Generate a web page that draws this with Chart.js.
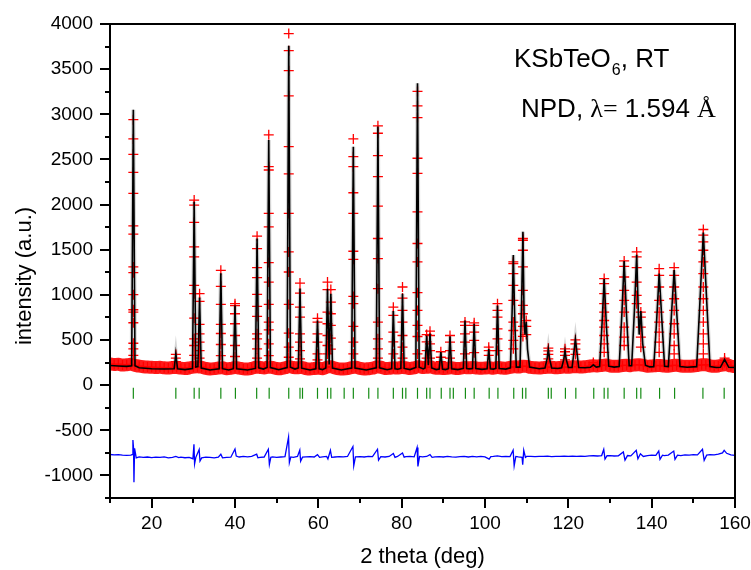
<!DOCTYPE html>
<html>
<head>
<meta charset="UTF-8" />
<title>KSbTeO6 NPD Rietveld</title>
<style>
  html, body { margin: 0; padding: 0; background: #fff; }
  #plot { display: block; }
</style>
</head>
<body>
<canvas id="plot" width="751" height="570"></canvas>
<script src="https://cdn.jsdelivr.net/npm/chart.js"></script>
<script>
// observed background band, one value per degree from 10 to 160
const bgStart = 10;
const bgInt = [235,228,232,222,226,230,220,210,204,200,198,195,197,192,190,194,196,188,185,190,
  200,205,198,185,180,183,190,192,182,186,195,188,180,178,186,198,196,190,200,195,
  185,182,192,205,195,192,196,184,178,185,188,182,198,205,190,180,178,182,195,198,
  185,178,182,188,200,198,185,186,192,190,195,192,184,192,205,195,198,200,188,186,
  185,188,192,184,186,194,192,195,190,186,190,192,188,195,190,188,196,205,200,210,
  208,196,192,190,194,198,198,194,196,200,198,203,205,200,204,210,215,212,218,222,
  212,208,210,218,220,216,224,226,220,210,212,216,218,212,210,218,220,212,208,210,
  212,218,225,226,214,208,212,222,225,212,205];

// observed points on the peaks: [2theta, intensities seen on that peak]
const obsPeaks = [
  [15.6, [2940,2727,2557,2357,2124,1764,1672,1309,1246,1002,835,809,691,464,402,330]],
  [25.8, [340,300,260]],
  [30.2, [2050,1994,1802,1531,1420,1105,1013,742,513,439,330]],
  [31.5, [1013,928,672,568,476,383,300]],
  [36.6, [1272,1094,894,672,572,450,328]],
  [40.0, [902,880,791,680,550,439,317]],
  [45.3, [1650,1513,1302,1191,1005,872,761,568,513,402,300]],
  [48.1, [2772,2420,2383,1902,1753,1358,1142,894,698,613,458,328]],
  [52.9, [3894,3705,3483,3205,2642,2339,1902,1475,1253,894,576,420,309]],
  [55.6, [1131,1020,864,753,568,476,383,290]],
  [59.8, [740,698,568,476,346,280]],
  [62.2, [1142,1058,809,680,550,439,346]],
  [63.0, [1058,920,791,661,520,400]],
  [68.4, [2727,2531,2420,2131,1902,1483,1394,983,902,650,476,346]],
  [74.3, [2872,2790,2542,2309,1983,1624,1402,1068,698,513,402,300]],
  [78.0, [864,772,587,480,346]],
  [80.2, [1087,964,828,698,550,420,300]],
  [83.8, [3253,3094,2964,2513,2346,1920,1569,1365,1024,828,661,539,346]],
  [86.0, [560,480,383,300]],
  [86.8, [598,550,458,383,300]],
  [89.4, [370,309,260]],
  [91.6, [550,476,383,300]],
  [95.2, [700,661,568,476,346]],
  [97.4, [690,661,587,495,360]],
  [100.9, [420,383,330]],
  [103.0, [902,828,753,624,513,383]],
  [106.8, [1366,1346,1235,1105,939,698,605,495,402]],
  [109.1, [1624,1605,1494,1309,1050,883,791,650,540]],
  [109.9, [716,650,560]],
  [115.2, [410,380,340,290]],
  [119.2, [402,370,330,280]],
  [121.7, [502,458,400,340]],
  [126.0, [250,230]],
  [128.6, [1180,1124,1013,902,809,716,642,550,458,364]],
  [133.4, [1376,1316,1198,1050,939,809,642,531,439]],
  [136.4, [1475,1420,1302,1142,994,902]],
  [137.4, [809,753,642,531,420]],
  [141.8, [1290,1216,1087,939,809,698,587,476,364]],
  [145.4, [1302,1216,1087,957,828,680,568,439,346]],
  [152.4, [1724,1661,1587,1494,1365,1235,1087,957,828,698,568,458,346]],
  [157.5, [300,270,250]]
];

// calculated profile [2theta, intensity]
const calcCurve = [
  [10,218],[12,212],[14,208],[15.2,215],[15.6,3050],[16.0,215],[17,192],[20,182],[23,178],
  [25.4,182],[25.8,350],[26.2,182],[28,172],[29.8,185],[30.2,2030],[30.6,200],[31.1,205],
  [31.5,970],[31.9,190],[34,168],[36.2,182],[36.6,1240],[37.0,182],[38.5,168],[39.6,182],
  [40.0,885],[40.4,182],[43,168],[44.9,185],[45.3,1625],[45.7,192],[46.8,178],[47.7,195],
  [48.1,2715],[48.5,195],[50.5,170],[52.5,195],[52.9,3760],[53.3,198],[54.4,178],[55.2,190],
  [55.6,1070],[56.0,188],[58,168],[59.4,180],[59.8,716],[60.2,180],[61,172],[61.8,190],
  [62.2,1068],[62.6,230],[63.0,1013],[63.4,190],[65.5,168],[68.0,190],[68.4,2640],[68.8,190],
  [71.5,168],[73.9,192],[74.3,2865],[74.7,192],[76.5,170],[77.6,182],[78.0,820],[78.4,182],
  [79.1,176],[79.8,185],[80.2,1013],[80.6,185],[82,172],[83.4,195],[83.8,3345],[84.2,198],
  [85.2,180],[85.6,190],[86.0,550],[86.4,220],[86.8,572],[87.2,190],[88.3,172],[89.0,178],
  [89.4,365],[89.8,178],[90.5,172],[91.2,182],[91.6,540],[92.0,182],[93.5,172],[94.8,185],
  [95.2,716],[95.6,185],[96.3,180],[97.0,185],[97.4,680],[97.8,185],[99.3,175],[100.5,182],
  [100.9,400],[101.3,182],[102,178],[102.6,185],[103.0,883],[103.4,185],[105,178],
  [106.1,192],[106.5,800],[106.8,1440],[107.1,800],[107.5,200],[108.4,200],[108.8,950],
  [109.1,1700],[109.4,700],[109.6,560],[109.9,700],[110.2,400],[110.7,200],[113,182],
  [114.4,190],[114.9,290],[115.2,400],[115.5,290],[116.0,190],[117.5,184],[118.4,192],
  [118.9,285],[119.2,383],[119.5,285],[120.0,195],[120.9,195],[121.3,350],[121.7,510],
  [122.1,350],[122.5,195],[124,192],[125.3,198],[126.0,225],[126.7,200],[127.5,205],
  [128.1,690],[128.6,1175],[129.1,690],[129.7,210],[131,200],[132.2,205],[132.85,790],
  [133.4,1375],[133.95,790],[134.6,215],[135.2,215],[135.85,820],[136.4,1445],[136.8,800],
  [137.0,560],[137.4,820],[137.85,460],[138.5,220],[139.5,202],[140.5,205],[141.2,720],
  [141.8,1235],[142.45,720],[143.1,210],[144.0,205],[144.7,740],[145.4,1275],[146.1,740],
  [146.8,205],[148.5,198],[150.8,205],[151.6,940],[152.4,1690],[153.2,940],[154.0,205],
  [155.5,196],[156.5,198],[157.5,285],[158.5,198],[160,195]
];

// difference curve (obs - calc, shifted) [2theta, value]
const diffCurve = [
  [10,-768],[11,-772],[12,-770],[13,-775],[14,-778],[15,-776],[15.3,-770],[15.5,-608],[15.65,-700],
  [15.75,-1075],[15.9,-700],[16.3,-805],[17,-795],[18,-800],[19,-796],[20,-802],[21,-798],[22,-800],
  [23,-795],[24,-805],[25,-800],[25.8,-790],[26.5,-802],[27,-798],[28,-804],[29,-800],[29.9,-815],
  [30.15,-655],[30.3,-872],[30.6,-800],[31.4,-712],[31.6,-840],[32,-805],[33,-798],[34,-800],
  [35,-806],[36,-798],[36.6,-765],[37,-805],[38,-800],[39,-798],[40,-708],[40.3,-785],[41,-796],
  [42,-790],[43,-794],[44,-788],[45.2,-765],[45.5,-805],[46,-800],[47,-796],[48.0,-710],
  [48.25,-878],[48.6,-800],[49,-795],[50,-800],[51,-796],[52,-792],[52.85,-575],[53.05,-858],
  [53.4,-795],[54,-800],[55,-790],[55.55,-720],[55.75,-842],[56.2,-798],[57,-795],[58,-792],
  [59,-796],[59.8,-770],[60.3,-800],[61,-795],[62,-790],[62.3,-818],[62.9,-722],[63.2,-800],
  [64,-796],[65,-792],[66,-795],[67,-790],[68.3,-680],[68.5,-894],[68.9,-795],[70,-792],
  [71,-796],[72,-790],[73,-792],[74.2,-710],[74.45,-830],[75,-792],[76,-796],[77,-790],
  [78,-758],[78.4,-800],[79,-790],[80.2,-752],[80.6,-798],[81,-792],[82,-790],[83,-795],
  [83.7,-690],[83.9,-900],[84.3,-790],[85,-795],[86,-790],[86.8,-770],[87.3,-800],[88,-795],
  [89,-792],[90,-796],[91,-790],[92,-795],[93,-798],[94,-792],[95,-790],[96,-796],[97,-790],
  [98,-795],[99,-790],[100,-794],[101,-820],[101.4,-792],[102,-790],[103,-784],[104,-792],
  [105,-790],[106,-792],[106.75,-720],[107.0,-894],[107.4,-790],[108,-795],[108.9,-800],
  [109.05,-880],[109.3,-722],[109.7,-800],[110,-790],[111,-788],[112,-792],[113,-788],
  [114,-790],[115,-786],[116,-792],[117,-788],[118,-790],[119,-786],[120,-790],[121,-786],
  [122,-790],[123,-786],[124,-788],[125,-784],[126,-782],[127,-785],[128,-780],[128.5,-712],
  [128.8,-820],[129.3,-782],[130,-780],[131,-785],[132,-782],[133.2,-740],[133.6,-830],
  [134.2,-780],[135,-784],[136.3,-722],[136.7,-815],[137.3,-760],[138,-790],[139,-780],
  [140,-776],[141,-778],[141.7,-730],[142.0,-822],[142.6,-776],[143,-780],[144,-775],
  [145.3,-730],[145.6,-822],[146.2,-776],[147,-780],[148,-772],[149,-776],[150,-770],
  [151,-772],[152.2,-710],[152.6,-832],[153.2,-775],[154,-770],[155,-772],[156,-765],
  [157.0,-750],[157.4,-722],[158,-755],[159,-772],[160,-778]
];

// Bragg reflection positions (2theta)
const braggPos = [15.6,25.8,30.2,31.4,36.6,40.1,45.2,48.2,52.9,55.6,56.2,59.8,62.2,63.0,66.2,
  68.4,72.1,74.3,78.0,80.2,81.0,83.8,86.0,86.8,89.5,91.6,92.4,95.3,97.4,101.0,103.1,106.9,
  109.0,109.8,115.2,115.9,119.3,121.8,126.1,128.6,129.5,133.4,136.4,137.4,141.9,145.5,152.3,157.4];
const braggLevel = -90;

// build point lists for the library
const bgData = bgInt.map((v, i) => ({ x: bgStart + i, y: v }));
const obsData = [];
obsPeaks.forEach(([c, list]) => list.forEach(v => obsData.push({ x: c, y: v })));
const calcData = calcCurve.map(([x, y]) => ({ x, y }));
const diffData = diffCurve.map(([x, y]) => ({ x, y }));
const braggData = braggPos.map(p => ({ x: p, y: braggLevel }));

const FONT = "'Liberation Sans', Arial, sans-serif";
const SERIF = "'Liberation Serif', 'Times New Roman', serif";

const framePlugin = {
  id: 'frame',
  afterDraw(chart) {
    const { ctx, chartArea: a, scales: { x, y } } = chart;
    ctx.save();
    ctx.strokeStyle = '#000';
    ctx.lineWidth = 2;
    ctx.strokeRect(a.left, a.top, a.right - a.left, a.bottom - a.top);
    ctx.beginPath();
    y.ticks.forEach(t => {
      const py = Math.round(y.getPixelForValue(t.value));
      const len = t.value % 500 === 0 ? 10 : 5;
      ctx.moveTo(a.left, py);
      ctx.lineTo(a.left - len, py);
    });
    x.ticks.forEach(t => {
      const px = Math.round(x.getPixelForValue(t.value));
      const len = t.value % 20 === 0 ? 10 : 5;
      ctx.moveTo(px, a.bottom);
      ctx.lineTo(px, a.bottom + len);
    });
    ctx.stroke();

    ctx.fillStyle = '#000';

    // y axis title, a little below the axis middle as in the original
    ctx.save();
    ctx.translate(25, a.top + (a.bottom - a.top) / 2 + 15);
    ctx.rotate(-Math.PI / 2);
    ctx.textAlign = 'center';
    ctx.textBaseline = 'middle';
    ctx.font = '22px ' + FONT;
    ctx.fillText('intensity (a.u.)', 0, 0);
    ctx.restore();

    // annotation text
    ctx.textBaseline = 'alphabetic';
    let tx = a.right - 221, ty = 67;
    ctx.font = '26px ' + FONT;
    ctx.fillText('KSbTeO', tx, ty);
    tx += ctx.measureText('KSbTeO').width;
    ctx.font = '16px ' + FONT;
    ctx.fillText('6', tx + 1, ty + 8);
    tx += ctx.measureText('6').width + 1;
    ctx.font = '26px ' + FONT;
    ctx.fillText(', RT', tx, ty);

    tx = a.right - 214; ty = 117;
    ctx.fillText('NPD, ', tx, ty);
    tx += ctx.measureText('NPD, ').width;
    ctx.font = '26px ' + SERIF;
    ctx.fillText('\u03bb=', tx, ty);
    tx += ctx.measureText('\u03bb=').width;
    ctx.font = '26px ' + FONT;
    ctx.fillText(' 1.594 ', tx, ty);
    tx += ctx.measureText(' 1.594 ').width;
    ctx.font = '26px ' + SERIF;
    ctx.fillText('\u00c5', tx, ty);
    ctx.restore();
  }
};

new Chart(document.getElementById('plot'), {
  type: 'scatter',
  data: {
    datasets: [
      {
        label: 'calc',
        data: calcData,
        showLine: true,
        borderColor: '#000',
        borderWidth: 1.6,
        pointRadius: 0,
        tension: 0,
        order: 0
      },
      {
        label: 'diff',
        data: diffData,
        showLine: true,
        borderColor: '#0000ff',
        borderWidth: 1.3,
        pointRadius: 0,
        tension: 0,
        order: 1
      },
      {
        label: 'obs',
        data: obsData,
        showLine: false,
        pointStyle: 'cross',
        pointRadius: 5,
        borderColor: '#ff0000',
        borderWidth: 1.3,
        order: 2
      },
      {
        label: 'obs background',
        data: bgData,
        showLine: true,
        borderColor: 'rgba(255,0,0,0.9)',
        borderWidth: 13,
        pointStyle: 'cross',
        pointRadius: 5,
        pointBorderColor: '#ff0000',
        pointBorderWidth: 1.3,
        tension: 0.3,
        order: 3
      },
      {
        label: 'bragg',
        data: braggData,
        showLine: false,
        pointStyle: 'line',
        rotation: 90,
        pointRadius: 5.5,
        borderColor: '#168c16',
        borderWidth: 1.2,
        order: 4
      },
      {
        label: 'calc halo',
        data: calcData,
        showLine: true,
        borderColor: 'rgba(0,0,0,0.16)',
        borderWidth: 4,
        pointRadius: 0,
        tension: 0,
        order: 5
      }
    ]
  },
  options: {
    responsive: false,
    animation: false,
    events: [],
    layout: { padding: { top: 24, right: 16, left: 0, bottom: 0 } },
    plugins: { legend: { display: false }, tooltip: { enabled: false } },
    scales: {
      x: {
        type: 'linear',
        min: 10,
        max: 160,
        afterFit: s => { s.height = 72; s.paddingLeft = 0; s.paddingRight = 0; },
        grid: { display: false, drawTicks: false },
        border: { display: false },
        ticks: {
          stepSize: 10,
          autoSkip: false,
          maxRotation: 0,
          padding: 14,
          color: '#000',
          font: { family: FONT, size: 19 },
          callback: v => (v % 20 === 0 ? v : '')
        },
        title: {
          display: true,
          text: '2 theta (deg)',
          color: '#000',
          font: { family: FONT, size: 22 },
          padding: { top: 0, bottom: 0 }
        }
      },
      y: {
        type: 'linear',
        min: -1250,
        max: 4000,
        afterFit: s => { s.width = 110; s.paddingTop = 0; s.paddingBottom = 0; },
        grid: { display: false, drawTicks: false },
        border: { display: false },
        ticks: {
          stepSize: 250,
          autoSkip: false,
          padding: 17,
          color: '#000',
          font: { family: FONT, size: 19 },
          callback: v => (v % 500 === 0 ? v : '')
        }
      }
    }
  },
  plugins: [framePlugin]
});
</script>
</body>
</html>
